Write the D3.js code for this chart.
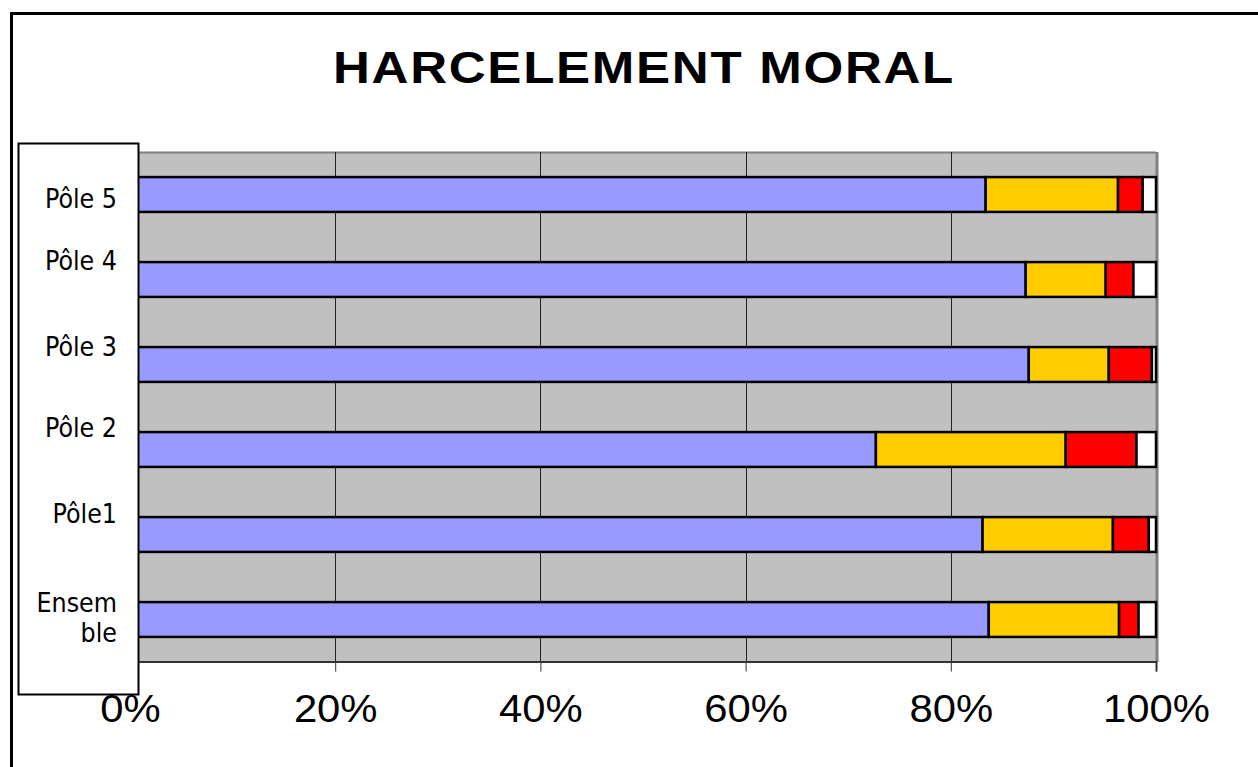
<!DOCTYPE html>
<html><head><meta charset="utf-8">
<script src="https://cdn.jsdelivr.net/npm/d3@7"></script>
<style>body{margin:0;background:#fff;overflow:hidden}</style>
</head><body>
<svg id="c" width="1258" height="767"></svg>
<script>
// ---- data ----
const categories = ["Pôle 5", "Pôle 4", "Pôle 3", "Pôle 2", "Pôle1", "Ensemble"];
const labelLines = [["Pôle 5"], ["Pôle 4"], ["Pôle 3"], ["Pôle 2"], ["Pôle1"], ["Ensem", "ble"]];
const seriesBlue   = [83.4, 87.3, 87.6, 72.7, 83.1, 83.7];
const seriesYellow = [12.9,  7.8,  7.8, 18.5, 12.7, 12.7];
const seriesRed    = [ 2.4,  2.7,  4.2,  6.9,  3.5,  1.9];
const seriesWhite  = [ 1.3,  2.2,  0.4,  1.9,  0.7,  1.7];
const tickValues = [0, 20, 40, 60, 80, 100];
const tickLabels = ["0%", "20%", "40%", "60%", "80%", "100%"];
const title = "HARCELEMENT MORAL";

// ---- layout / style ----
const colors = ["#9999ff", "#ffcc00", "#ff0000", "#ffffff"];
const plot = {left: 130, right: 1156, top: 152, bottom: 662};
const labelBaselineDy = [56, 33, 34, 30, 31, 35];

const svg = d3.select("#c");
// outer frame
svg.append("rect").attr("x", 11.5).attr("y", 13.5).attr("width", 1300).attr("height", 800)
  .attr("fill", "#fff").attr("stroke", "#000").attr("stroke-width", 3);

// title
svg.append("text").attr("x", 644).attr("y", 83).attr("text-anchor", "middle")
  .attr("font-family", "Liberation Sans, Arial, sans-serif").attr("font-weight", "bold")
  .attr("font-size", 45).attr("letter-spacing", 1.5)
  .attr("textLength", 622).attr("lengthAdjust", "spacingAndGlyphs")
  .text(title);

const x = d3.scaleLinear().domain([0, 100]).range([plot.left, plot.right]);
const y = d3.scaleBand().domain(categories).range([plot.top, plot.bottom]).paddingInner(0.59).paddingOuter(0.295);

// plot background
svg.append("rect").attr("x", plot.left).attr("y", plot.top)
  .attr("width", plot.right - plot.left).attr("height", plot.bottom - plot.top)
  .attr("fill", "#c0c0c0");
// top & right wall edges
svg.append("line").attr("x1", plot.left).attr("x2", plot.right).attr("y1", plot.top + 0.5).attr("y2", plot.top + 0.5)
  .attr("stroke", "#808080").attr("stroke-width", 2);
svg.append("line").attr("x1", plot.right + 1).attr("x2", plot.right + 1).attr("y1", plot.top).attr("y2", plot.bottom)
  .attr("stroke", "#808080").attr("stroke-width", 3);

// gridlines
svg.append("g").selectAll("line").data(tickValues.slice(1, -1)).join("line")
  .attr("x1", d => Math.round(x(d)) + 0.5).attr("x2", d => Math.round(x(d)) + 0.5)
  .attr("y1", plot.top).attr("y2", plot.bottom)
  .attr("stroke", "#222").attr("stroke-width", 1);

// x axis
const axis = svg.append("g").attr("transform", `translate(0,${plot.bottom - 0.5})`)
  .call(d3.axisBottom(x).tickValues(tickValues).tickFormat((d, i) => tickLabels[i]).tickSize(10).tickPadding(24));
axis.select(".domain").attr("stroke", "#333").attr("stroke-width", 2);
axis.selectAll(".tick line").attr("stroke", "#333");
axis.selectAll(".tick text").attr("font-family", "Liberation Sans, Arial, sans-serif")
  .attr("font-size", 38).attr("fill", "#000")
  .attr("transform", "scale(1.1,1)");

// stacked bars
const stackData = categories.map((c, i) => ({cat: c, b: seriesBlue[i], yl: seriesYellow[i], r: seriesRed[i], w: seriesWhite[i]}));
const stack = d3.stack().keys(["b", "yl", "r", "w"])(stackData);
svg.append("g").selectAll("g").data(stack).join("g")
  .attr("fill", (d, i) => colors[i])
  .selectAll("rect").data(d => d).join("rect")
  .attr("x", d => x(d[0])).attr("width", d => x(d[1]) - x(d[0]))
  .attr("y", d => y(d.data.cat)).attr("height", y.bandwidth())
  .attr("stroke", "#000").attr("stroke-width", 2.5);

// label box
svg.append("rect").attr("x", 18.5).attr("y", 143.5).attr("width", 120).attr("height", 551)
  .attr("fill", "#fff").attr("stroke", "#000").attr("stroke-width", 2);

const lab = svg.append("g").selectAll("text").data(categories).join("text")
  .attr("x", 117).attr("text-anchor", "end")
  .attr("font-family", "DejaVu Sans Condensed, DejaVu Sans, sans-serif")
  .attr("font-stretch", "condensed")
  .attr("font-size", 26.5).attr("fill", "#000")
  .attr("y", (d, i) => y(d) - y.step() * y.paddingOuter() + labelBaselineDy[i]);
lab.each(function(d, i) {
  const t = d3.select(this);
  labelLines[i].forEach((ln, k) => {
    t.append("tspan").attr("x", 117).attr("dy", k === 0 ? 0 : 30).text(ln);
  });
});
</script>
</body></html>
